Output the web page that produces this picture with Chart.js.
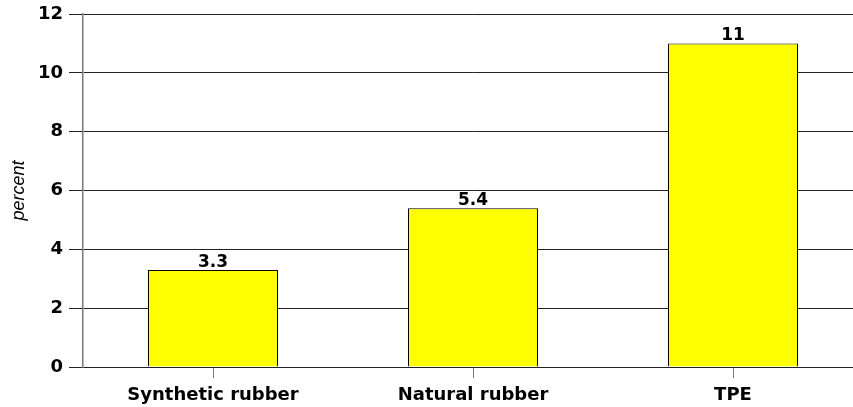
<!DOCTYPE html>
<html>
<head>
<meta charset="utf-8">
<script src="https://cdn.jsdelivr.net/npm/chart.js@4"></script>
<style>
  html, body { margin: 0; padding: 0; background: #fff; overflow: hidden; }
  #wrap { width: 873px; height: 407px; }
</style>
</head>
<body>
<div id="wrap"><canvas id="grafico" width="873" height="407"></canvas></div>
<script>
const categorias = ['Synthetic rubber', 'Natural rubber', 'TPE'];
const valores = [3.3, 5.4, 11];
const etiquetas = ['3.3', '5.4', '11'];
const ticksY = [0, 2, 4, 6, 8, 10, 12];

const fuente = '"DejaVu Sans", "Liberation Sans", Arial, sans-serif';

// numbers above the bars
const etiquetasBarras = {
    id: 'etiquetasBarras',
    afterDatasetsDraw(chart) {
        const ctx = chart.ctx;
        const meta = chart.getDatasetMeta(0);
        ctx.save();
        ctx.font = 'bold 17px ' + fuente;
        ctx.fillStyle = '#000';
        ctx.textAlign = 'center';
        ctx.textBaseline = 'alphabetic';
        meta.data.forEach((bar, i) => {
            ctx.fillText(etiquetas[i], bar.x, bar.y - 3);
        });
        ctx.restore();
    }
};

const ctx = document.getElementById('grafico');
new Chart(ctx, {
    type: 'bar',
    data: {
        labels: categorias,
        datasets: [{
            label: 'percent',
            data: valores,
            backgroundColor: '#ffff00',
            borderColor: '#000000',
            borderWidth: 1,
            categoryPercentage: 1,
            barPercentage: 0.5
        }]
    },
    options: {
        responsive: false,
        animation: false,
        layout: {
            padding: { top: 14, right: 10, left: 0, bottom: 0 }
        },
        plugins: {
            legend: { display: false },
            title: { display: false },
            tooltip: { enabled: false }
        },
        scales: {
            x: {
                offset: true,
                grid: {
                    offset: false,
                    drawOnChartArea: false,
                    drawTicks: true,
                    tickLength: 11,
                    color: '#777'
                },
                border: { color: '#222', width: 1 },
                ticks: {
                    color: '#000',
                    padding: 7,
                    font: { family: fuente, size: 18, weight: 'bold' }
                },
                afterFit(scale) { scale.height = 40; }
            },
            y: {
                min: 0,
                max: 12,
                afterBuildTicks(scale) {
                    scale.ticks = ticksY.map(v => ({ value: v }));
                },
                grid: {
                    color: '#222',
                    tickLength: 14,
                    drawTicks: true
                },
                border: { color: '#777', width: 1.5 },
                ticks: {
                    color: '#000',
                    padding: 6,
                    font: { family: fuente, size: 18, weight: 'bold' }
                },
                title: {
                    display: true,
                    text: 'percent',
                    color: '#000',
                    padding: { top: 8, bottom: 0 },
                    font: { family: '"Liberation Sans", Arial, sans-serif', size: 18, style: 'italic' }
                },
                afterFit(scale) {
                    scale.width = 83;
                    scale.paddingTop = 0;
                    scale.paddingBottom = 0;
                }
            }
        }
    },
    plugins: [etiquetasBarras]
});
</script>
</body>
</html>
